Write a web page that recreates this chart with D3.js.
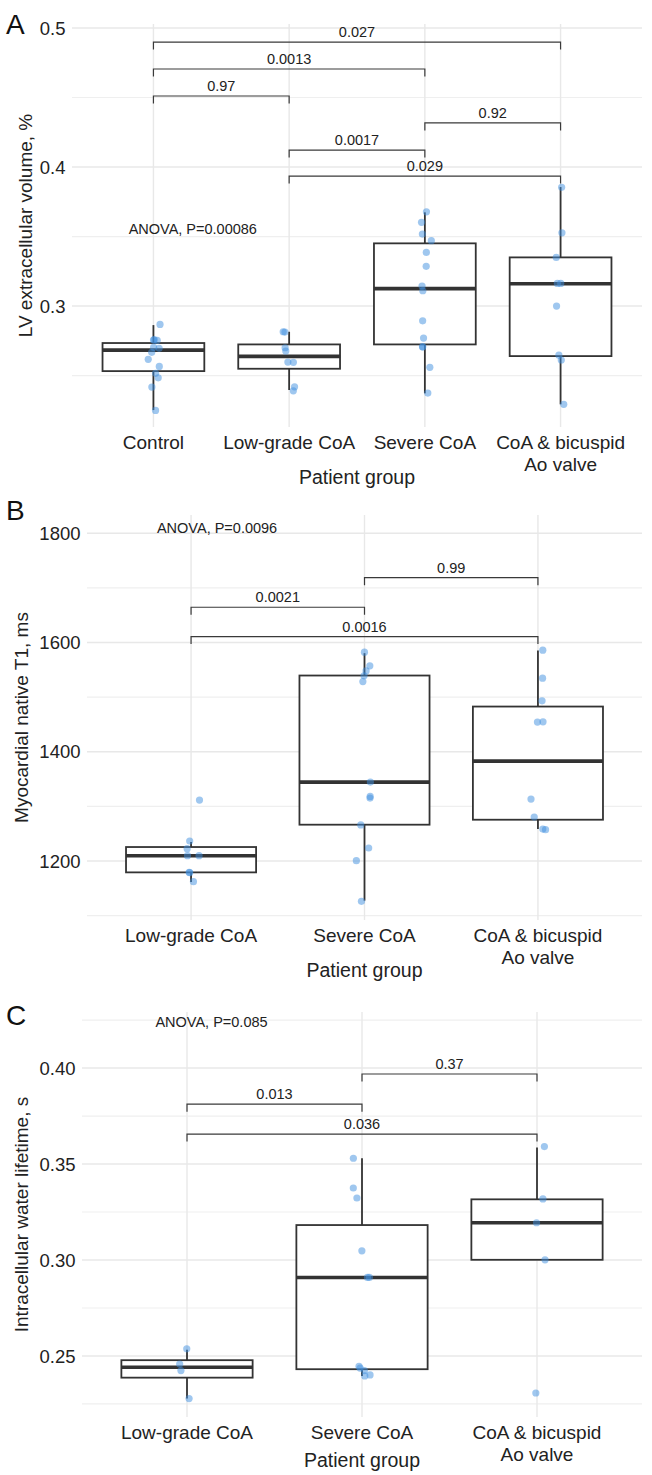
<!DOCTYPE html>
<html>
<head>
<meta charset="utf-8">
<script src="https://cdn.jsdelivr.net/npm/d3@7"></script>
<style>
  body { margin: 0; background: #fff; }
  text { font-family: "Liberation Sans", Arial, Helvetica, sans-serif; }
</style>
</head>
<body>
<script>
// ---------------- DATA ----------------
const groupsA = ["Control", "Low-grade CoA", "Severe CoA", "CoA & bicuspid\nAo valve"];
const groupsBC = ["Low-grade CoA", "Severe CoA", "CoA & bicuspid\nAo valve"];

// Panel A: LV extracellular volume
const ecvControl = [0.2868,0.2753,0.2755,0.2758,0.2696,0.2703,0.2667,0.2617,0.2566,0.2516,0.2484,0.2417,0.2249];
const ecvLow     = [0.2815,0.2813,0.2700,0.2676,0.2595,0.2597,0.2419,0.2390];
const ecvSevere  = [0.3678,0.3602,0.3518,0.3470,0.3386,0.3286,0.3144,0.3110,0.2894,0.2770,0.2707,0.2707,0.2559,0.2374];
const ecvBicusp  = [0.3854,0.3527,0.3350,0.3163,0.3163,0.3000,0.2647,0.2612,0.2293];
// box stats [lowWhisker, q1, median, q3, highWhisker]
const ecvBoxes = [
  [0.2252,0.2532,0.2683,0.2734,0.2863],
  [0.2396,0.2549,0.2638,0.2724,0.2815],
  [0.2372,0.2724,0.3125,0.3451,0.3674],
  [0.2293,0.2640,0.3160,0.3350,0.3856]
];
// comparisons [groupIndex1, groupIndex2, y, label]
const ecvPairs = [
  [0,3,0.4899,"0.027"],
  [0,2,0.4705,"0.0013"],
  [0,1,0.4511,"0.97"],
  [2,3,0.4317,"0.92"],
  [1,2,0.4122,"0.0017"],
  [1,3,0.3935,"0.029"]
];
const ecvTicks = [0.3,0.4,0.5];
const ecvMinor = [0.25,0.35,0.45];

// Panel B: myocardial native T1
const t1Low    = [1311.6,1236.6,1222.6,1209.8,1209.8,1179.2,1178.6,1162.2];
const t1Severe = [1582.3,1557.3,1548.1,1539,1528.5,1344.5,1315.3,1318.2,1266,1223.8,1200.6,1126.2];
const t1Bicusp = [1586,1534.8,1493.3,1454.3,1454.8,1313.4,1280.5,1258.5,1257.3];
const t1Boxes = [
  [1161.6,1179.2,1209.7,1225.6,1234.8],
  [1127.4,1266.5,1344.5,1539.6,1580.5],
  [1258.5,1275.6,1382.9,1482.8,1585.3]
];
const t1Pairs = [
  [1,2,1718.8,"0.99"],
  [0,1,1664.6,"0.0021"],
  [0,2,1610.9,"0.0016"]
];
const t1Ticks = [1200,1400,1600,1800];
const t1Minor = [1100,1300,1500,1700];

// Panel C: intracellular water lifetime
const iwlLow    = [0.2537,0.2458,0.2424,0.2278];
const iwlSevere = [0.3530,0.3375,0.3323,0.3048,0.2909,0.2909,0.2446,0.2437,0.2424,0.2401,0.2396];
const iwlBicusp = [0.3591,0.3318,0.3194,0.3001,0.2307];
const iwlBoxes = [
  [0.2278,0.2387,0.2441,0.2478,0.2533],
  [0.2396,0.2431,0.2909,0.3182,0.3530],
  [0.3001,0.3001,0.3194,0.3316,0.3586]
];
const iwlPairs = [
  [1,2,0.3969,"0.37"],
  [0,1,0.3812,"0.013"],
  [0,2,0.3656,"0.036"]
];
const iwlTicks = [0.25,0.30,0.35,0.40];
const iwlMinor = [0.225,0.275,0.325,0.375,0.425];

// ---------------- DRAW ----------------
const W = 652, H = 1475;
const svg = d3.select("body").append("svg").attr("width", W).attr("height", H);

const panels = [
  { letter:"A", cats:groupsA, series:[ecvControl,ecvLow,ecvSevere,ecvBicusp], boxes:ecvBoxes, pairs:ecvPairs,
    ticks:ecvTicks, minor:ecvMinor, fmt:d3.format(".1f"), domain:[0.2130,0.50288],
    left:72, right:642, top:24, bottom:427, ytitle:"LV extracellular volume, %", ytitleX:25,
    anova:{text:"ANOVA, P=0.00086", xi:0.29, y:0.3554}, xtitleY:477, letterY:34, seed:11 },
  { letter:"B", cats:groupsBC, series:[t1Low,t1Severe,t1Bicusp], boxes:t1Boxes, pairs:t1Pairs,
    ticks:t1Ticks, minor:t1Minor, fmt:d3.format("d"), domain:[1092,1833.5],
    left:87, right:642, top:515, bottom:920, ytitle:"Myocardial native T1, ms", ytitleX:21,
    anova:{text:"ANOVA, P=0.0096", xi:0.15, y:1811}, xtitleY:970, letterY:520, seed:23 },
  { letter:"C", cats:groupsBC, series:[iwlLow,iwlSevere,iwlBicusp], boxes:iwlBoxes, pairs:iwlPairs,
    ticks:iwlTicks, minor:iwlMinor, fmt:d3.format(".2f"), domain:[0.2182,0.4292],
    left:82, right:642, top:1012, bottom:1417, ytitle:"Intracellular water lifetime, s", ytitleX:21,
    anova:{text:"ANOVA, P=0.085", xi:0.14, y:0.4240}, xtitleY:1460, letterY:1025, seed:37 }
];

const textCol = "#222222";
const boxCol = "#333333";

panels.forEach(p => {
  const g = svg.append("g");
  const x = d3.scalePoint().domain(p.cats).range([p.left, p.right]).padding(0.6);
  const step = x.step();
  const y = d3.scaleLinear().domain(p.domain).range([p.bottom, p.top]);

  // grid
  g.selectAll(".minor").data(p.minor).join("line")
    .attr("x1", p.left).attr("x2", p.right)
    .attr("y1", d => y(d)).attr("y2", d => y(d))
    .attr("stroke", "#efefef").attr("stroke-width", 1.2);
  g.selectAll(".major").data(p.ticks).join("line")
    .attr("x1", p.left).attr("x2", p.right)
    .attr("y1", d => y(d)).attr("y2", d => y(d))
    .attr("stroke", "#e8e8e8").attr("stroke-width", 1.4);
  g.selectAll(".vgrid").data(p.cats).join("line")
    .attr("x1", d => x(d)).attr("x2", d => x(d))
    .attr("y1", p.top).attr("y2", p.bottom)
    .attr("stroke", "#e8e8e8").attr("stroke-width", 1.4);

  // y tick labels
  g.selectAll(".ytl").data(p.ticks).join("text")
    .attr("x", p.left - 6.5).attr("y", d => y(d)).attr("dy", "0.36em")
    .attr("text-anchor", "end").attr("font-size", 18.5).attr("fill", textCol)
    .text(d => p.fmt(d));

  // boxes
  const bw = step * 0.75;
  p.boxes.forEach((b, i) => {
    const cx = x(p.cats[i]);
    g.append("line").attr("x1", cx).attr("x2", cx).attr("y1", y(b[0])).attr("y2", y(b[1]))
      .attr("stroke", boxCol).attr("stroke-width", 1.8);
    g.append("line").attr("x1", cx).attr("x2", cx).attr("y1", y(b[3])).attr("y2", y(b[4]))
      .attr("stroke", boxCol).attr("stroke-width", 1.8);
    g.append("rect").attr("x", cx - bw/2).attr("width", bw)
      .attr("y", y(b[3])).attr("height", y(b[1]) - y(b[3]))
      .attr("fill", "#fff").attr("stroke", boxCol).attr("stroke-width", 1.8);
    g.append("line").attr("x1", cx - bw/2).attr("x2", cx + bw/2)
      .attr("y1", y(b[2])).attr("y2", y(b[2]))
      .attr("stroke", boxCol).attr("stroke-width", 3.6);
  });

  // jittered points (deterministic jitter)
  const rnd = d3.randomLcg(p.seed / 100);
  p.series.forEach((vals, i) => {
    const cx = x(p.cats[i]);
    g.selectAll(null).data(vals).join("circle")
      .attr("cx", () => cx + (rnd() - 0.5) * 0.1 * step)
      .attr("cy", d => y(d)).attr("r", 3.6)
      .attr("fill", "#3f8fe0").attr("fill-opacity", 0.5);
  });

  // brackets
  const tip = 7.5;
  p.pairs.forEach(([a, b, v, lab]) => {
    const x1 = x(p.cats[a]), x2 = x(p.cats[b]), yy = y(v);
    g.append("path")
      .attr("d", `M${x1},${yy + tip}V${yy}H${x2}V${yy + tip}`)
      .attr("fill", "none").attr("stroke", "#3a3a3a").attr("stroke-width", 1.2);
    g.append("text").attr("x", (x1 + x2) / 2).attr("y", yy - 10).attr("dy", "0.36em")
      .attr("text-anchor", "middle").attr("font-size", 14.5).attr("fill", textCol).text(lab);
  });

  // ANOVA
  g.append("text")
    .attr("x", x(p.cats[0]) + p.anova.xi * step).attr("y", y(p.anova.y)).attr("dy", "0.36em")
    .attr("text-anchor", "middle").attr("font-size", 14.5).attr("fill", textCol).text(p.anova.text);

  // x tick labels
  p.cats.forEach(c => {
    const lines = c.split("\n");
    const t = g.append("text").attr("text-anchor", "middle").attr("font-size", 19).attr("fill", textCol);
    lines.forEach((ln, k) => {
      t.append("tspan").attr("x", x(c)).attr("y", p.bottom + 15 + k * 22).attr("dy", "0.36em").text(ln);
    });
  });

  // axis titles
  g.append("text").attr("x", (p.left + p.right) / 2).attr("y", p.xtitleY).attr("dy", "0.36em")
    .attr("text-anchor", "middle").attr("font-size", 19.5).attr("fill", textCol).text("Patient group");
  g.append("text")
    .attr("transform", `translate(${p.ytitleX},${(p.top + p.bottom) / 2}) rotate(-90)`)
    .attr("dy", "0.36em").attr("text-anchor", "middle").attr("font-size", 19).attr("fill", textCol)
    .text(p.ytitle);

  // panel letter
  g.append("text").attr("x", 6).attr("y", p.letterY)
    .attr("font-size", 28).attr("fill", "#111").text(p.letter);
});
</script>
</body>
</html>
